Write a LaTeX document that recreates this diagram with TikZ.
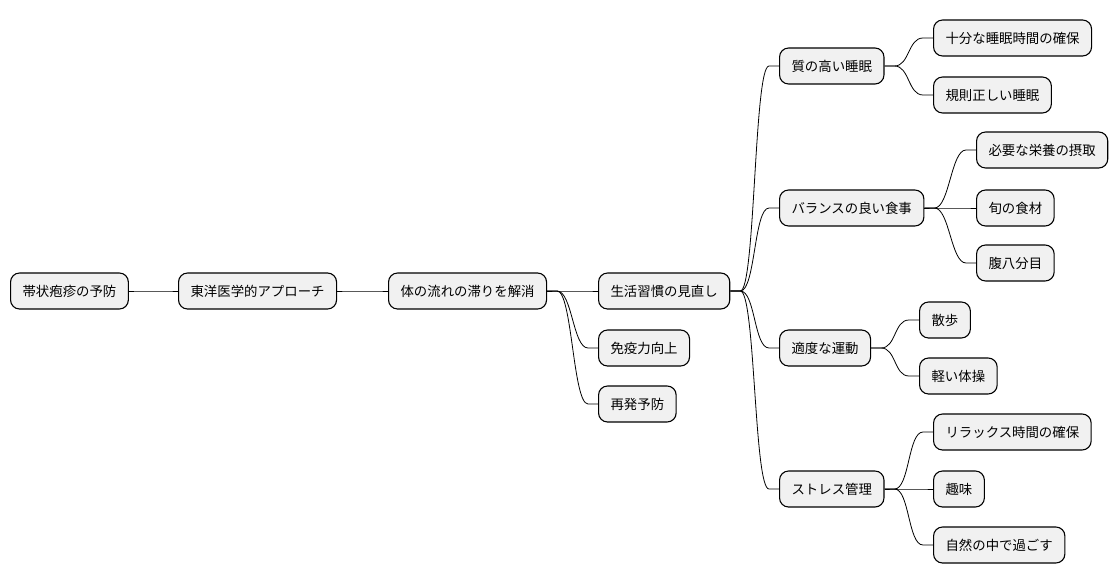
\documentclass[tikz,border=0pt]{standalone}
\usepackage{fontspec}
\setmainfont{Noto Sans CJK JP}
\begin{document}
\begin{tikzpicture}[x=1pt,y=-1pt,
  box/.style={draw=black, line width=1.1pt, fill=gray!11, rounded corners=9pt,
    anchor=west, minimum height=36pt, inner xsep=12pt, inner ysep=0pt,
    font=\fontsize{13.4pt}{16pt}\selectfont},
  link/.style={draw=black, line width=0.8pt}]
\useasboundingbox (0,0) rectangle (1118,583);
\node[box] (r) at (10,291) {帯状疱疹の予防};
\node[box] (a) at (178,291) {東洋医学的アプローチ};
\node[box] (b) at (388,291) {体の流れの滞りを解消};
\node[box] (c1) at (598,291) {生活習慣の見直し};
\node[box] (c2) at (598,348) {免疫力向上};
\node[box] (c3) at (598,404) {再発予防};
\node[box] (d1) at (779,66) {質の高い睡眠};
\node[box] (d2) at (779,208) {バランスの良い食事};
\node[box] (d3) at (779,348) {適度な運動};
\node[box] (d4) at (779,489) {ストレス管理};
\node[box] (e11) at (933,38) {十分な睡眠時間の確保};
\node[box] (e12) at (933,95) {規則正しい睡眠};
\node[box] (e21) at (976,150) {必要な栄養の摂取};
\node[box] (e22) at (976,208) {旬の食材};
\node[box] (e23) at (976,263) {腹八分目};
\node[box] (e31) at (919,320) {散歩};
\node[box] (e32) at (919,376) {軽い体操};
\node[box] (e41) at (933,432) {リラックス時間の確保};
\node[box] (e42) at (933,489) {趣味};
\node[box] (e43) at (933,545) {自然の中で過ごす};
\foreach \p/\c in {r/a,a/b,b/c1,b/c2,b/c3,c1/d1,c1/d2,c1/d3,c1/d4,
  d1/e11,d1/e12,d2/e21,d2/e22,d2/e23,d3/e31,d3/e32,d4/e41,d4/e42,d4/e43}
  \draw[link] (\p.east) -- ++(10,0) .. controls +(15,0) and +(-15,0) .. ([xshift=-10pt]\c.west) -- (\c.west);
\end{tikzpicture}
\end{document}
